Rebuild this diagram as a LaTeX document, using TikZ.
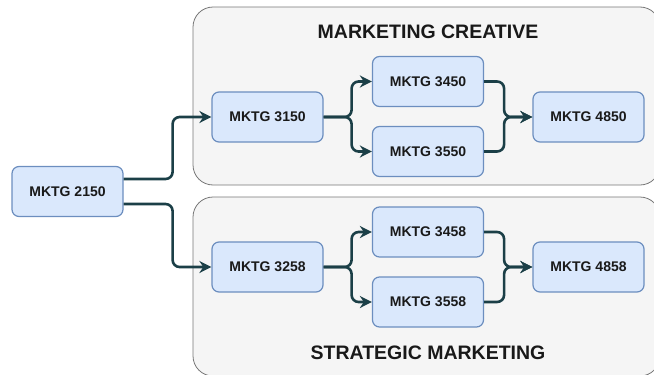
\documentclass[tikz,border=0pt]{standalone}
\usepackage{fontspec}
\setmainfont{Liberation Sans}
\usetikzlibrary{arrows.meta}
\definecolor{boxfill}{HTML}{DAE8FC}
\definecolor{boxline}{HTML}{6C8EBF}
\definecolor{grpfill}{HTML}{F5F5F5}
\definecolor{grpline}{HTML}{777777}
\definecolor{edgecol}{HTML}{1B3F47}
\begin{document}
\begin{tikzpicture}[x=1pt,y=-1pt,line join=round,
	course/.style={draw=boxline,fill=boxfill,rounded corners=7pt,line width=1.2pt,minimum width=111pt,minimum height=50pt,text=black!90,font=\fontsize{14}{16}\selectfont\bfseries},
	group/.style={draw=grpline,fill=grpfill,rounded corners=20pt,line width=0.8pt},
	link/.style={draw=edgecol,line width=2.6pt,rounded corners=7pt,-{Stealth[length=12pt,width=12pt]}},
	title/.style={text=black!90,font=\fontsize{19.5}{22}\selectfont\bfseries}]
	\useasboundingbox (0,0) rectangle (654,375);
	\clip (0,0) rectangle (654,375);
	\draw[group] (193,7) rectangle (660,185);
	\draw[group] (193,197) rectangle (660,376);
	\node[title] (tcre) at (428,32) {MARKETING CREATIVE};
	\node[title] (tstr) at (428,353) {STRATEGIC MARKETING};
	\node[course] (m2150) at (67.5,191.5) {MKTG 2150};
	\foreach \n/\x/\y in {3150/267.5/117,3450/428/81.5,3550/428/151.5,4850/588.5/117,3258/267.5/267,3458/428/232,3558/428/302,4858/588.5/267}
		\node[course] (m\n) at (\x,\y) {MKTG \n};
	\draw[link] ([yshift=12.5pt]m2150.east) -- ++(49,0) |- (m3150.west);
	\draw[link] ([yshift=-12.5pt]m2150.east) -- ++(49,0) |- (m3258.west);
	\foreach \a/\b/\c/\d in {3150/3450/3550/4850,3258/3458/3558/4858}{
		\draw[link] (m\a.east) -- ++(28,0) |- (m\b.west);
		\draw[link] (m\a.east) -- ++(28,0) |- (m\c.west);
		\draw[link] (m\b.east) -- ++(20,0) |- (m\d.west);
		\draw[link] (m\c.east) -- ++(20,0) |- (m\d.west);
	}
\end{tikzpicture}
\end{document}
